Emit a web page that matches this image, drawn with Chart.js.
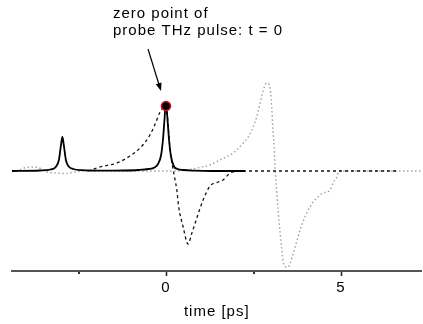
<!DOCTYPE html>
<html>
<head>
<meta charset="utf-8">
<script src="https://cdn.jsdelivr.net/npm/chart.js@4"></script>
<style>
  html, body { margin: 0; padding: 0; background: #fff; }
  #wrap { width: 423px; height: 324px; }
</style>
</head>
<body>
<div id="wrap"><canvas id="c" width="423" height="324"></canvas></div>
<script>
// Time axis in picoseconds
const axisMin = -4.4;
const axisMax = 7.3;
const majorTicks = [0, 5];
const minorTicks = [-2.5, 2.5];
const axisTitle = 'time [ps]';

// Pump-probe signal (solid)
const solidTime = [-4.4, -3.6, -3.3, -3.15, -3.06, -3.0, -2.96, -2.92, -2.86, -2.78, -2.65, -2.4, -1.8, -1.2, -0.8, -0.5, -0.33, -0.22, -0.14, -0.09, -0.05, -0.02, 0, 0.02, 0.05, 0.09, 0.14, 0.22, 0.33, 0.5, 0.8, 1.3, 2.26];
const solidValue = [0, 0.005, 0.015, 0.04, 0.11, 0.26, 0.34, 0.26, 0.11, 0.045, 0.02, 0.008, 0.003, 0.005, 0.01, 0.02, 0.035, 0.075, 0.16, 0.30, 0.48, 0.62, 0.66, 0.62, 0.48, 0.30, 0.15, 0.05, 0.02, 0.01, 0.004, 0, 0];

// Probe THz pulse (dashed)
const dashedTime = [-2.23, -1.89, -1.4, -1.03, -0.74, -0.46, -0.31, -0.17, -0.06, 0.0, 0.05, 0.11, 0.19, 0.26, 0.31, 0.36, 0.49, 0.63, 0.74, 0.89, 1.06, 1.26, 1.49, 1.63, 1.77, 1.91, 2.11, 6.6];
const dashedValue = [0, 0.04, 0.08, 0.15, 0.23, 0.36, 0.47, 0.59, 0.64, 0.65, 0.51, 0.24, 0.04, -0.09, -0.19, -0.35, -0.56, -0.73, -0.62, -0.46, -0.29, -0.15, -0.11, -0.09, -0.04, -0.01, 0, 0];

// Delayed THz pulse (dotted)
const dottedTime = [-4.4, -4.2, -4.0, -3.75, -3.55, -3.4, -3.15, -2.85, -2.6, -2.3, 0.3, 0.6, 1.02, 1.26, 1.54, 1.83, 2.02, 2.21, 2.35, 2.49, 2.59, 2.69, 2.78, 2.88, 2.95, 2.99, 3.02, 3.05, 3.09, 3.12, 3.16, 3.21, 3.26, 3.31, 3.35, 3.43, 3.49, 3.56, 3.64, 3.73, 3.83, 3.97, 4.11, 4.31, 4.49, 4.69, 4.77, 4.88, 4.94, 7.3];
const dottedValue = [0, 0.01, 0.035, 0.04, 0.02, -0.01, -0.02, -0.025, -0.01, 0, 0, 0.01, 0.04, 0.06, 0.11, 0.16, 0.21, 0.28, 0.34, 0.44, 0.54, 0.68, 0.81, 0.88, 0.86, 0.78, 0.64, 0.44, 0.24, 0.01, -0.19, -0.42, -0.62, -0.79, -0.91, -0.96, -0.96, -0.91, -0.82, -0.71, -0.59, -0.46, -0.36, -0.27, -0.22, -0.19, -0.12, -0.06, 0, 0];

// Marked zero point
const markerTime = [0];
const markerValue = [0.65];
const noteLines = ['zero point of', 'probe THz pulse: t = 0'];

const FONT = '"Liberation Sans", Arial, sans-serif';

function pairs(xs, ys) {
  return xs.map((t, i) => ({ x: t, y: ys[i] }));
}

// Small ticks between the labelled ones
const minorTickMarks = {
  id: 'minorTickMarks',
  afterDraw(chart) {
    const { ctx, scales: { x } } = chart;
    ctx.save();
    ctx.fillStyle = '#333';
    minorTicks.forEach(v => {
      const px = Math.round(x.getPixelForValue(v));
      ctx.fillRect(px - 1, x.top + 1, 2, 2);
    });
    ctx.restore();
  }
};

// Callout text and arrow pointing at the zero point
const zeroNote = {
  id: 'zeroNote',
  beforeDraw(chart) {
    chart.ctx.letterSpacing = '1px';
  },
  afterDatasetsDraw(chart) {
    const { ctx, scales: { x, y } } = chart;
    const cx = x.getPixelForValue(markerTime[0]);
    const cy = y.getPixelForValue(markerValue[0]);
    ctx.save();
    ctx.fillStyle = '#000';
    ctx.font = '15px ' + FONT;
    ctx.letterSpacing = '1px';
    ctx.textBaseline = 'alphabetic';
    ctx.textAlign = 'left';
    ctx.fillText(noteLines[0], cx - 53, cy - 88);
    ctx.fillText(noteLines[1], cx - 53, cy - 71);

    const x0 = cx - 18, y0 = cy - 57, x1 = cx - 5, y1 = cy - 15;
    const ang = Math.atan2(y1 - y0, x1 - x0);
    ctx.strokeStyle = '#000';
    ctx.lineWidth = 1.2;
    ctx.beginPath();
    ctx.moveTo(x0, y0);
    ctx.lineTo(x1 - 5 * Math.cos(ang), y1 - 5 * Math.sin(ang));
    ctx.stroke();
    ctx.beginPath();
    ctx.moveTo(x1, y1);
    ctx.lineTo(x1 - 8 * Math.cos(ang) + 3 * Math.sin(ang), y1 - 8 * Math.sin(ang) - 3 * Math.cos(ang));
    ctx.lineTo(x1 - 8 * Math.cos(ang) - 3 * Math.sin(ang), y1 - 8 * Math.sin(ang) + 3 * Math.cos(ang));
    ctx.closePath();
    ctx.fill();
    ctx.restore();
  }
};

new Chart(document.getElementById('c'), {
  type: 'line',
  data: {
    datasets: [
      {
        type: 'scatter',
        data: pairs(markerTime, markerValue),
        pointRadius: 4.5,
        pointBackgroundColor: '#000',
        pointBorderColor: '#e01010',
        pointBorderWidth: 1.6,
        order: 0
      },
      {
        data: pairs(solidTime, solidValue),
        borderColor: '#000',
        borderWidth: 1.8,
        pointRadius: 0,
        cubicInterpolationMode: 'monotone',
        order: 1
      },
      {
        data: pairs(dashedTime, dashedValue),
        borderColor: '#111',
        borderWidth: 1.3,
        borderDash: [3, 3],
        pointRadius: 0,
        cubicInterpolationMode: 'monotone',
        order: 2
      },
      {
        data: pairs(dottedTime, dottedValue),
        borderColor: '#a0a0a0',
        borderWidth: 1.4,
        borderDash: [1.5, 2.5],
        pointRadius: 0,
        cubicInterpolationMode: 'monotone',
        order: 3
      }
    ]
  },
  options: {
    responsive: false,
    animation: false,
    layout: { autoPadding: false, padding: { left: 12, right: 1.5, top: 11, bottom: 0 } },
    plugins: { legend: { display: false }, tooltip: { enabled: false } },
    scales: {
      x: {
        type: 'linear',
        min: axisMin,
        max: axisMax,
        afterBuildTicks(scale) {
          scale.ticks = majorTicks.map(v => ({ value: v }));
        },
        afterFit(scale) { scale.height = 53; },
        border: { display: true, color: '#555', width: 2 },
        grid: {
          drawOnChartArea: false,
          tickLength: 5,
          tickWidth: 1.5,
          tickColor: '#222'
        },
        ticks: {
          color: '#000',
          font: { family: FONT, size: 15 },
          padding: 3,
          maxRotation: 0,
          autoSkip: false
        },
        title: {
          display: true,
          text: axisTitle,
          color: '#000',
          font: { family: FONT, size: 15 },
          padding: { top: 2, bottom: 3 }
        }
      },
      y: {
        display: false,
        min: -1.0,
        max: 1.6
      }
    }
  },
  plugins: [minorTickMarks, zeroNote]
});
</script>
</body>
</html>
